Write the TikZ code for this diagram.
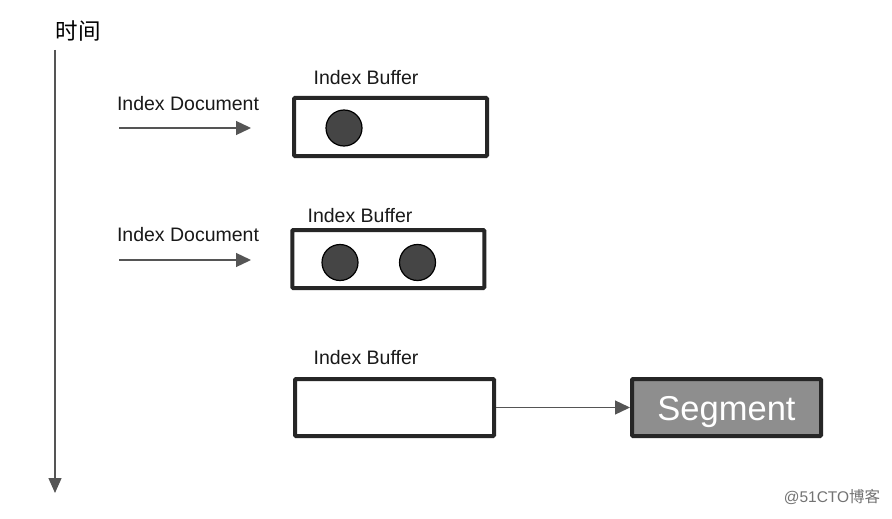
\documentclass[tikz,border=0pt]{standalone}
\usepackage{fontspec}
\setmainfont{Liberation Sans}
\newfontfamily\cjk{Noto Sans CJK SC}
\usetikzlibrary{arrows.meta}
\definecolor{boxline}{HTML}{262626}
\definecolor{dotfill}{HTML}{454545}
\definecolor{arrowcol}{HTML}{555555}
\definecolor{segfill}{HTML}{8E8E8E}
\begin{document}
\begin{tikzpicture}[x=1pt,y=-1pt,
  bufbox/.style={draw=boxline,line width=4pt,fill=white,inner sep=0pt,rounded corners=1pt},
  dot/.style={circle,draw=black,line width=1.2pt,fill=dotfill,minimum size=36pt,inner sep=0pt},
  lbl/.style={font=\fontsize{19.5}{22}\selectfont,text=black!90,inner sep=0pt},
  flow/.style={draw=arrowcol,line width=1.3pt,-{Triangle[length=15pt,width=14pt]}},
]
\useasboundingbox[fill=white] (0,0) rectangle (892,519);

% time axis
\node[font=\cjk\fontsize{22.5}{25}\selectfont,inner sep=0pt] (time) at (78,31) {时间};
\coordinate (axtop) at (55,50);
\coordinate (axbot) at (55,493);
\draw[draw=arrowcol,line width=1.3pt,-{Triangle[length=15pt,width=13pt]}] (axtop) -- (axbot);

% row 1
\node[lbl] (doc1) at (188,104) {Index Document};
\coordinate (a1s) at (119,128);
\coordinate (a1e) at (251,128);
\draw[flow] (a1s) -- (a1e);
\node[bufbox,minimum width=193pt,minimum height=58pt] (buf1) at (390.5,127) {};
\node[lbl] (lab1) at (366,78) {Index Buffer};
\node[dot] (d11) at (344,128) {};

% row 2
\node[lbl] (doc2) at (188,235) {Index Document};
\coordinate (a2s) at (119,260);
\coordinate (a2e) at (251,260);
\draw[flow] (a2s) -- (a2e);
\node[bufbox,minimum width=192pt,minimum height=58pt] (buf2) at (388.3,259) {};
\node[lbl] (lab2) at (360,216) {Index Buffer};
\node[dot] (d21) at (340,262.5) {};
\node[dot] (d22) at (417.5,262.5) {};

% row 3
\node[bufbox,minimum width=199pt,minimum height=57pt] (buf3) at (394.5,407.5) {};
\node[lbl] (lab3) at (366,358) {Index Buffer};
\node[bufbox,fill=segfill,minimum width=189pt,minimum height=57pt,
      text=white,font=\fontsize{34.5}{38}\selectfont,text height=25pt,text depth=0pt] (seg) at (726.5,407.5) {Segment};
\draw[flow] (buf3.east) -- (seg.west);

% watermark
\node[font=\fontsize{15.5}{18}\selectfont,text=black!55,inner sep=0pt] (wm) at (832,497) {@51CTO\cjk 博客};
\end{tikzpicture}
\end{document}
